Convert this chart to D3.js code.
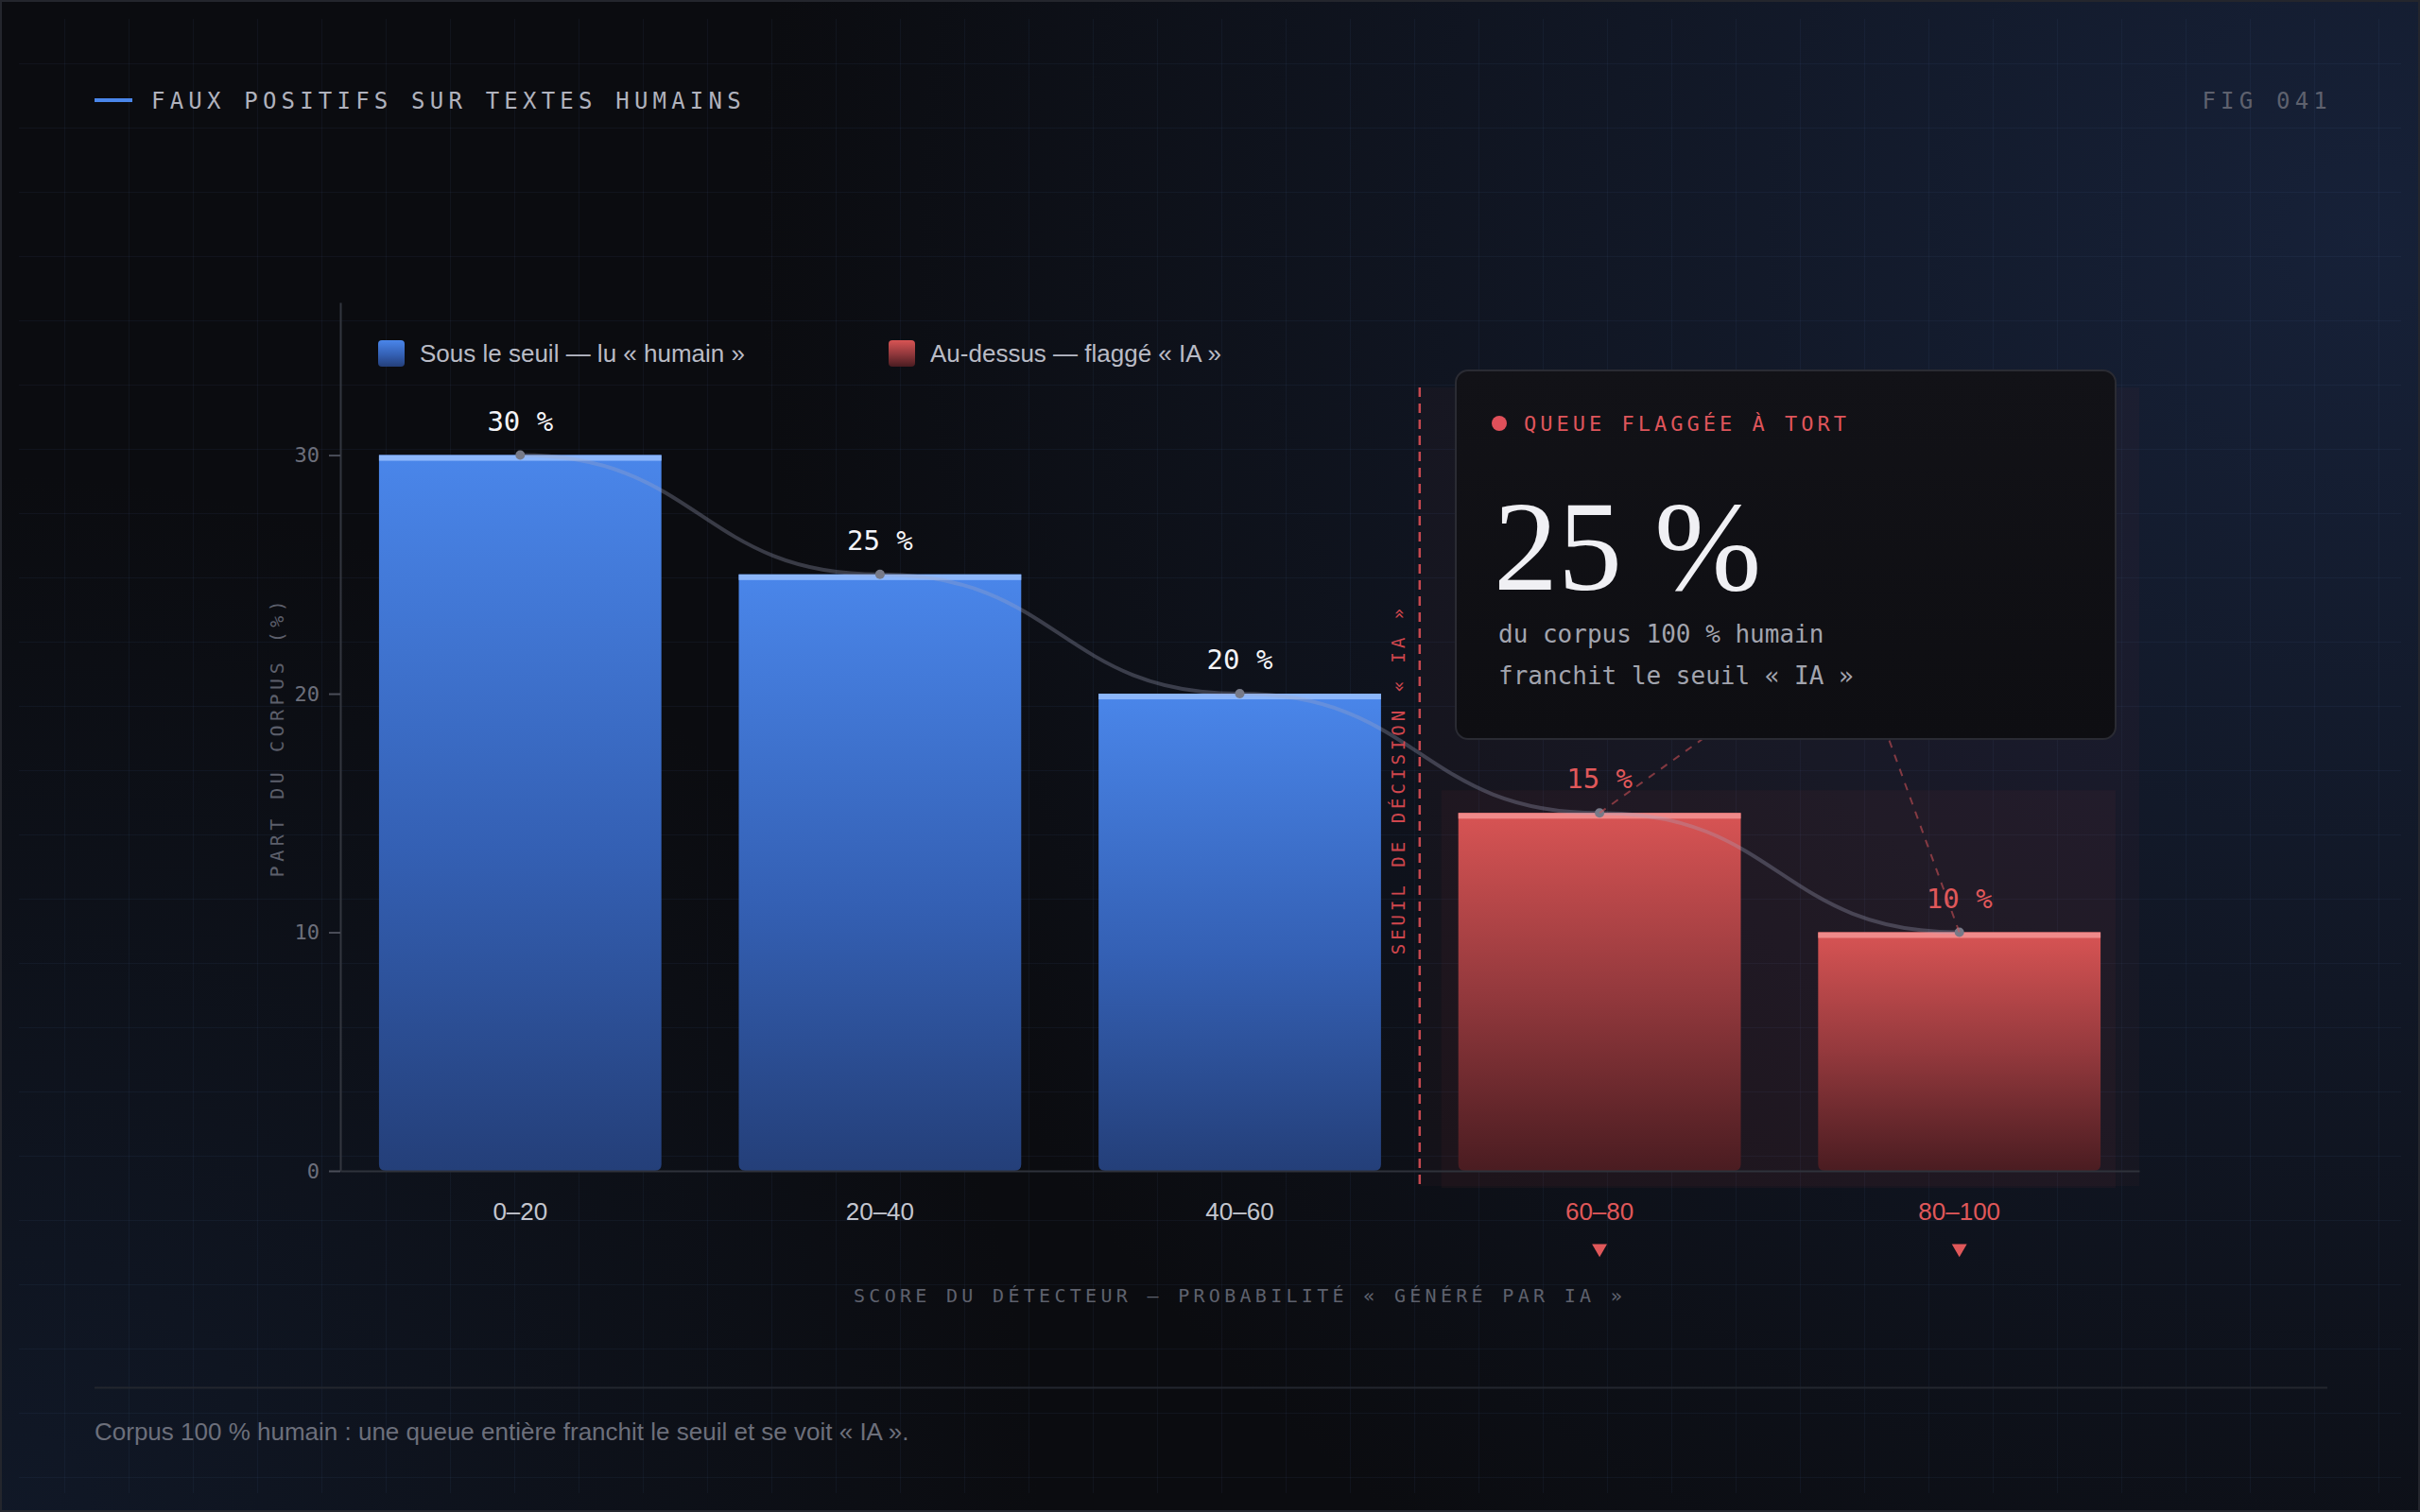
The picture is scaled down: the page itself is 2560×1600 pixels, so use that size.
<!DOCTYPE html>
<html>
<head>
<meta charset="utf-8">
<script src="https://cdn.jsdelivr.net/npm/d3@7"></script>
<style>
  html, body { margin: 0; padding: 0; background: #0b0c10; }
  svg { display: block; }
  .mono { font-family: "DejaVu Sans Mono", monospace; }
  .sans { font-family: "Liberation Sans", Arial, sans-serif; }
</style>
</head>
<body>
<div id="chart"></div>
<script>
// données
const categories = ["0–20", "20–40", "40–60", "60–80", "80–100"];
const shares = [30, 25, 20, 15, 10];
const thresholdIndex = 3; // les classes à partir de 60–80 sont flaggées « IA »
const yTicks = [0, 10, 20, 30];
const legendLabels = ["Sous le seuil — lu « humain »", "Au-dessus — flaggé « IA »"];

const W = 2560, H = 1600;
const plot = { left: 360, right: 2263, top: 320, bottom: 1239 };

const data = categories.map((c, i) => ({ cat: c, value: shares[i], flagged: i >= thresholdIndex }));
const flaggedTotal = d3.sum(data.filter(d => d.flagged), d => d.value);

const svg = d3.select("#chart")
  .append("svg")
  .attr("width", W)
  .attr("height", H);

const defs = svg.append("defs");

function linGrad(id, stops) {
  const g = defs.append("linearGradient").attr("id", id)
    .attr("x1", 0).attr("y1", 0).attr("x2", 0).attr("y2", 1);
  stops.forEach(s => g.append("stop").attr("offset", s[0]).attr("stop-color", s[1]).attr("stop-opacity", s[2] ?? 1));
}
linGrad("blueBar", [[0, "#4a86ea"], [0.55, "#3460b4"], [1, "#243f79"]]);
linGrad("redBar", [[0, "#d85454"], [0.5, "#94393d"], [1, "#4a1c21"]]);
linGrad("boxFill", [[0, "#121217"], [1, "#0e0e12"]]);

const glowR = defs.append("radialGradient").attr("id", "glowRight")
  .attr("gradientUnits", "userSpaceOnUse").attr("cx", 2500).attr("cy", 250).attr("r", 1700);
glowR.append("stop").attr("offset", 0).attr("stop-color", "#17223a").attr("stop-opacity", 0.95);
glowR.append("stop").attr("offset", 1).attr("stop-color", "#17223a").attr("stop-opacity", 0);

const glowL = defs.append("radialGradient").attr("id", "glowLeft")
  .attr("gradientUnits", "userSpaceOnUse").attr("cx", 0).attr("cy", 1600).attr("r", 1100);
glowL.append("stop").attr("offset", 0).attr("stop-color", "#142036").attr("stop-opacity", 0.6);
glowL.append("stop").attr("offset", 1).attr("stop-color", "#142036").attr("stop-opacity", 0);

// fond
svg.append("rect").attr("width", W).attr("height", H).attr("fill", "#0b0c10");
svg.append("rect").attr("width", W).attr("height", H).attr("fill", "url(#glowLeft)");
svg.append("rect").attr("width", W).attr("height", H).attr("fill", "url(#glowRight)");

// grille de fond
const grid = svg.append("g").attr("stroke", "#4a6aaa").attr("stroke-opacity", 0.09).attr("stroke-width", 1);
d3.range(68, 2541, 68).forEach(gx => {
  grid.append("line").attr("x1", gx + 0.5).attr("x2", gx + 0.5).attr("y1", 20).attr("y2", 1580);
});
d3.range(67, 1581, 68).forEach(gy => {
  grid.append("line").attr("y1", gy + 0.5).attr("y2", gy + 0.5).attr("x1", 20).attr("x2", 2540);
});

svg.append("rect").attr("x", 1).attr("y", 1).attr("width", W - 2).attr("height", H - 2)
  .attr("fill", "none").attr("stroke", "#24262d").attr("stroke-width", 2);

// en-tête
svg.append("line").attr("x1", 100).attr("x2", 140).attr("y1", 106).attr("y2", 106)
  .attr("stroke", "#4a86ea").attr("stroke-width", 4);
svg.append("text").attr("class", "mono").attr("x", 160).attr("y", 115)
  .attr("font-size", 24).attr("letter-spacing", 5.2).attr("fill", "#b0b2bd")
  .text("FAUX POSITIFS SUR TEXTES HUMAINS");
svg.append("text").attr("class", "mono").attr("x", 2467).attr("y", 115)
  .attr("text-anchor", "end").attr("font-size", 24).attr("letter-spacing", 5.2).attr("fill", "#5e616e")
  .text("FIG 041");

// échelles
const x = d3.scaleBand()
  .domain(categories)
  .range([plot.left, plot.right])
  .paddingInner(0.215)
  .paddingOuter(0.1075);

const y = d3.scaleLinear()
  .domain([0, 36.4])
  .range([plot.bottom, plot.top]);

const bw = x.bandwidth();
const thresholdX = (x(categories[thresholdIndex - 1]) + bw + x(categories[thresholdIndex])) / 2;
const firstFlag = x(categories[thresholdIndex]);
const lastFlag = x(categories[categories.length - 1]) + bw;
const maxFlag = d3.max(data.filter(d => d.flagged), d => d.value);

// zone flaggée
svg.append("rect")
  .attr("x", thresholdX).attr("y", 410)
  .attr("width", plot.right - thresholdX).attr("height", y(0) + 16 - 410)
  .attr("fill", "#c0404a").attr("fill-opacity", 0.045);
svg.append("rect")
  .attr("x", firstFlag - 18).attr("y", y(maxFlag) - 24)
  .attr("width", lastFlag - firstFlag + 34).attr("height", y(0) + 18 - (y(maxFlag) - 24))
  .attr("fill", "#c0404a").attr("fill-opacity", 0.06);

// axe Y
const yAxis = svg.append("g")
  .attr("transform", `translate(${plot.left},0)`)
  .call(d3.axisLeft(y).tickValues(yTicks).tickSize(12).tickSizeOuter(0).tickPadding(10));
yAxis.select(".domain").attr("stroke", "#33363f").attr("stroke-width", 2);
yAxis.selectAll(".tick line").attr("stroke", "#4b4e59").attr("stroke-width", 2);
yAxis.selectAll(".tick text").attr("class", "mono").attr("font-size", 22).attr("fill", "#6c6f7b");

svg.append("text").attr("class", "mono")
  .attr("transform", `translate(300,${(plot.top + plot.bottom) / 2}) rotate(-90)`)
  .attr("text-anchor", "middle").attr("font-size", 20).attr("letter-spacing", 4.5)
  .attr("fill", "#5c5f6b")
  .text("PART DU CORPUS (%)");

// barres (coins bas arrondis)
function barPath(x0, y0, w, h, r) {
  return `M${x0},${y0} H${x0 + w} V${y0 + h - r} Q${x0 + w},${y0 + h} ${x0 + w - r},${y0 + h}` +
    ` H${x0 + r} Q${x0},${y0 + h} ${x0},${y0 + h - r} Z`;
}

svg.selectAll(".bar")
  .data(data)
  .enter()
  .append("path")
  .attr("class", "bar")
  .attr("d", d => barPath(x(d.cat), y(d.value), bw, y(0) - y(d.value), 7))
  .attr("fill", d => d.flagged ? "url(#redBar)" : "url(#blueBar)");

svg.selectAll(".cap")
  .data(data)
  .enter()
  .append("rect")
  .attr("class", "cap")
  .attr("x", d => x(d.cat))
  .attr("y", d => y(d.value))
  .attr("width", bw)
  .attr("height", 6)
  .attr("fill", d => d.flagged ? "#f08a8a" : "#8cb6fa");

// axe X (ligne de base)
const xAxis = svg.append("g")
  .attr("transform", `translate(0,${y(0)})`)
  .call(d3.axisBottom(x).tickSize(0).tickSizeOuter(0).tickPadding(34));
xAxis.select(".domain").attr("stroke", "#2f323b").attr("stroke-width", 2);
xAxis.selectAll(".tick text")
  .attr("class", "sans")
  .attr("font-size", 26)
  .attr("fill", (d, i) => data[i].flagged ? "#e0585a" : "#c4c6cf");

svg.selectAll(".flag-mark")
  .data(data.filter(d => d.flagged))
  .enter()
  .append("path")
  .attr("class", "flag-mark")
  .attr("d", d3.symbol(d3.symbolTriangle, 110))
  .attr("transform", d => `translate(${x(d.cat) + bw / 2},1321) rotate(180)`)
  .attr("fill", "#e0585a");

svg.append("text").attr("class", "mono")
  .attr("x", (plot.left + plot.right) / 2).attr("y", 1378)
  .attr("text-anchor", "middle").attr("font-size", 20).attr("letter-spacing", 4.3)
  .attr("fill", "#5e616d")
  .text("SCORE DU DÉTECTEUR — PROBABILITÉ « GÉNÉRÉ PAR IA »");

// courbe de tendance
const line = d3.line()
  .x(d => x(d.cat) + bw / 2)
  .y(d => y(d.value))
  .curve(d3.curveBumpX);

svg.append("path")
  .datum(data)
  .attr("d", line)
  .attr("fill", "none")
  .attr("stroke", "#a4a8c2")
  .attr("stroke-opacity", 0.3)
  .attr("stroke-width", 4);

svg.selectAll(".pt")
  .data(data)
  .enter()
  .append("circle")
  .attr("class", "pt")
  .attr("cx", d => x(d.cat) + bw / 2)
  .attr("cy", d => y(d.value))
  .attr("r", 5)
  .attr("fill", "#777a88");

// étiquettes de valeur
svg.selectAll(".val")
  .data(data)
  .enter()
  .append("text")
  .attr("class", "mono val")
  .attr("x", d => x(d.cat) + bw / 2)
  .attr("y", d => y(d.value) - 26)
  .attr("text-anchor", "middle")
  .attr("font-size", 29)
  .attr("fill", d => d.flagged ? "#e0585a" : "#f4f4f7")
  .text(d => `${d.value} %`);

// seuil de décision
svg.append("line")
  .attr("x1", thresholdX).attr("x2", thresholdX)
  .attr("y1", 410).attr("y2", y(0) + 16)
  .attr("stroke", "#c5484f").attr("stroke-width", 2.5)
  .attr("stroke-dasharray", "10,7");

svg.append("text").attr("class", "mono")
  .attr("transform", `translate(${thresholdX - 16},825) rotate(-90)`)
  .attr("text-anchor", "middle").attr("font-size", 19).attr("letter-spacing", 4)
  .attr("fill", "#d0464d")
  .text("SEUIL DE DÉCISION « IA »");

// connecteurs vers l'encadré
const box = { x: 1540, y: 392, w: 698, h: 390 };
const anchors = [1801, 1998];
data.filter(d => d.flagged).forEach((d, i) => {
  svg.append("line")
    .attr("x1", x(d.cat) + bw / 2).attr("y1", y(d.value))
    .attr("x2", anchors[i]).attr("y2", box.y + box.h)
    .attr("stroke", "#d8545a").attr("stroke-opacity", 0.55)
    .attr("stroke-width", 2).attr("stroke-dasharray", "8,8");
});

// encadré
const card = svg.append("g").attr("transform", `translate(${box.x},${box.y})`);
card.append("rect")
  .attr("width", box.w).attr("height", box.h).attr("rx", 13)
  .attr("fill", "url(#boxFill)").attr("stroke", "#2a2b33").attr("stroke-width", 2);
card.append("circle").attr("cx", 46).attr("cy", 56).attr("r", 8).attr("fill", "#e0505a");
card.append("text").attr("class", "mono").attr("x", 72).attr("y", 64)
  .attr("font-size", 22).attr("letter-spacing", 4).attr("fill", "#df555b")
  .text("QUEUE FLAGGÉE À TORT");
card.append("text")
  .attr("x", 40).attr("y", 232)
  .attr("font-family", "Georgia, 'Liberation Serif', serif")
  .attr("font-size", 136).attr("fill", "#f0f0f4")
  .text(`${flaggedTotal} %`);
card.append("text").attr("class", "mono").attr("x", 45).attr("y", 288)
  .attr("font-size", 26).attr("fill", "#a2a4ae")
  .text("du corpus 100 % humain");
card.append("text").attr("class", "mono").attr("x", 45).attr("y", 332)
  .attr("font-size", 26).attr("fill", "#a2a4ae")
  .text("franchit le seuil « IA »");

// légende
const legend = svg.append("g").attr("transform", "translate(400,360)");
const legendX = [0, 540];
legendLabels.forEach((lab, i) => {
  const g = legend.append("g").attr("transform", `translate(${legendX[i]},0)`);
  g.append("rect").attr("width", 28).attr("height", 28).attr("rx", 4)
    .attr("fill", i === 0 ? "url(#blueBar)" : "url(#redBar)");
  g.append("text").attr("class", "sans").attr("x", 44).attr("y", 23)
    .attr("font-size", 26).attr("fill", "#b9bbc5")
    .text(lab);
});

// pied de figure
svg.append("line").attr("x1", 100).attr("x2", 2462).attr("y1", 1468.5).attr("y2", 1468.5)
  .attr("stroke", "#23262e").attr("stroke-width", 2);
svg.append("text").attr("class", "sans").attr("x", 100).attr("y", 1524)
  .attr("font-size", 26).attr("fill", "#6c6f7b")
  .text("Corpus 100 % humain : une queue entière franchit le seuil et se voit « IA ».");
</script>
</body>
</html>
